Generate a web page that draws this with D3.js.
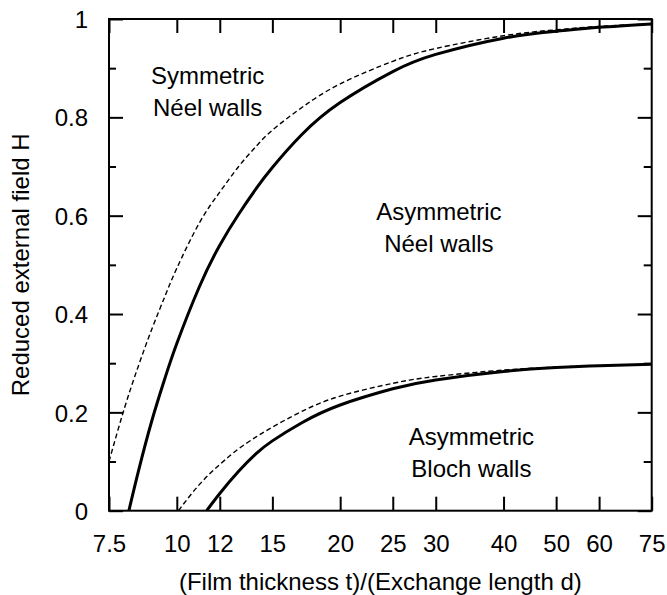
<!DOCTYPE html>
<html>
<head>
<meta charset="utf-8">
<script src="https://cdn.jsdelivr.net/npm/d3@7"></script>
<style>
  html, body { margin: 0; padding: 0; background: #fff; }
  svg text { font-family: "Liberation Sans", Arial, Helvetica, sans-serif; fill: #000; }
</style>
</head>
<body>
<svg id="chart" width="667" height="595"></svg>
<script>
// ---------- data ----------
const xTickValues = [7.5, 10, 12, 15, 20, 25, 30, 40, 50, 60, 75];
const xTickLabels = ["7.5", "10", "12", "15", "20", "25", "30", "40", "50", "60", "75"];
const yTickValues = [0, 0.1, 0.2, 0.3, 0.4, 0.5, 0.6, 0.7, 0.8, 0.9, 1];
const yTickLabels = ["0", "", "0.2", "", "0.4", "", "0.6", "", "0.8", "", "1"];

// Asymmetric Néel boundary (solid, upper)
const neelSolidT = [8.16, 8.5, 9, 9.5, 10, 11, 12, 13, 14, 15, 17, 20, 25, 30, 40, 50, 60, 75];
const neelSolidH = [0, 0.081, 0.184, 0.268, 0.340, 0.455, 0.540, 0.603, 0.655, 0.698, 0.765, 0.830, 0.893, 0.928, 0.961, 0.975, 0.983, 0.990];
// Symmetric Néel boundary (dashed, upper)
const neelDashT = [7.5, 8, 8.5, 9, 9.5, 10, 11, 12, 13, 14, 15, 17, 20, 25, 30, 40, 50, 60, 75];
const neelDashH = [0.100, 0.207, 0.295, 0.370, 0.435, 0.493, 0.585, 0.648, 0.700, 0.741, 0.774, 0.820, 0.868, 0.914, 0.940, 0.966, 0.978, 0.985, 0.990];
// Asymmetric Bloch boundary (solid, lower)
const blochSolidT = [11.35, 12, 13, 14, 15, 17, 20, 25, 30, 40, 50, 60, 75];
const blochSolidH = [0, 0.035, 0.080, 0.116, 0.142, 0.179, 0.215, 0.248, 0.266, 0.283, 0.291, 0.295, 0.298];
// Bloch boundary (dashed, lower)
const blochDashT = [10.07, 11, 12, 13, 14, 15, 17, 20, 25, 30, 40, 50, 60, 75];
const blochDashH = [0, 0.053, 0.094, 0.126, 0.150, 0.170, 0.202, 0.233, 0.259, 0.273, 0.286, 0.292, 0.295, 0.298];

// region labels: t, H of first baseline, two lines
const labelT = [11.4, 30.4, 34.9];
const labelH = [0.868, 0.591, 0.134];
const labelLine1 = ["Symmetric", "Asymmetric", "Asymmetric"];
const labelLine2 = ["Néel walls", "Néel walls", "Bloch walls"];

const xTitle = "(Film thickness t)/(Exchange length d)";
const yTitle = "Reduced external field H";

// ---------- layout ----------
const W = 667, H = 595;
const margin = { left: 109, top: 19, right: 15.3, bottom: 84.3 };
const iw = W - margin.left - margin.right;
const ih = H - margin.top - margin.bottom;
const FS = 24;

const svg = d3.select("#chart");
const g = svg.append("g").attr("transform", `translate(${margin.left},${margin.top})`);

const x = d3.scaleLog().domain([7.5, 75]).range([0, iw]);
const y = d3.scaleLinear().domain([0, 1]).range([ih, 0]);

svg.append("defs").append("clipPath").attr("id", "clip")
  .append("rect").attr("x", 0).attr("y", 0).attr("width", iw).attr("height", ih);

// ---------- curves ----------
const line = d3.line().x(d => x(d[0])).y(d => y(d[1])).curve(d3.curveNatural);
const zip = (a, b) => a.map((v, i) => [v, b[i]]);

const curves = g.append("g").attr("clip-path", "url(#clip)");
[
  { t: neelDashT, h: neelDashH, dash: true },
  { t: blochDashT, h: blochDashH, dash: true },
  { t: neelSolidT, h: neelSolidH, dash: false },
  { t: blochSolidT, h: blochSolidH, dash: false }
].forEach(s => {
  curves.append("path")
    .attr("d", line(zip(s.t, s.h)))
    .attr("fill", "none")
    .attr("stroke", "#000")
    .attr("stroke-width", s.dash ? 1.4 : 3)
    .attr("stroke-dasharray", s.dash ? "5,3" : null);
});

// ---------- axes ----------
function styleAxis(sel) {
  sel.select(".domain").remove();
  sel.selectAll(".tick line").attr("stroke", "#000").attr("stroke-width", 2);
  sel.selectAll(".tick text").attr("font-size", FS).attr("fill", "#000");
}

const xBottom = g.append("g").attr("transform", `translate(0,${ih})`)
  .call(d3.axisBottom(x).tickValues(xTickValues)
    .tickFormat((d, i) => xTickLabels[i]).tickSizeInner(-14).tickSizeOuter(0).tickPadding(0));
styleAxis(xBottom);
xBottom.selectAll(".tick text").attr("y", 41).attr("dy", 0);

const xTop = g.append("g")
  .call(d3.axisTop(x).tickValues(xTickValues).tickFormat("").tickSizeInner(-14).tickSizeOuter(0));
styleAxis(xTop);

const yLeft = g.append("g")
  .call(d3.axisLeft(y).tickValues(yTickValues)
    .tickFormat((d, i) => yTickLabels[i]).tickSizeOuter(0).tickPadding(21));
styleAxis(yLeft);
yLeft.selectAll(".tick line").attr("x2", (d, i) => yTickLabels[i] ? 14 : 7);
yLeft.selectAll(".tick text").attr("x", -21).attr("dy", "0.36em");

const yRight = g.append("g").attr("transform", `translate(${iw},0)`)
  .call(d3.axisRight(y).tickValues(yTickValues).tickFormat("").tickSizeOuter(0));
styleAxis(yRight);
yRight.selectAll(".tick line").attr("x2", (d, i) => yTickLabels[i] ? -14 : -8);

g.append("rect").attr("x", 0).attr("y", 0).attr("width", iw).attr("height", ih)
  .attr("fill", "none").attr("stroke", "#000").attr("stroke-width", 2);

// ---------- titles ----------
svg.append("text")
  .attr("x", margin.left + iw / 2).attr("y", 590)
  .attr("text-anchor", "middle").attr("font-size", FS)
  .text(xTitle);

svg.append("text")
  .attr("transform", `translate(29,${margin.top + ih / 2}) rotate(-90)`)
  .attr("text-anchor", "middle").attr("font-size", FS)
  .text(yTitle);

// ---------- region labels ----------
labelT.forEach((t, i) => {
  const tx = g.append("text")
    .attr("x", x(t)).attr("y", y(labelH[i]))
    .attr("text-anchor", "middle").attr("font-size", FS);
  tx.append("tspan").attr("x", x(t)).text(labelLine1[i]);
  tx.append("tspan").attr("x", x(t)).attr("dy", 32).text(labelLine2[i]);
});
</script>
</body>
</html>
